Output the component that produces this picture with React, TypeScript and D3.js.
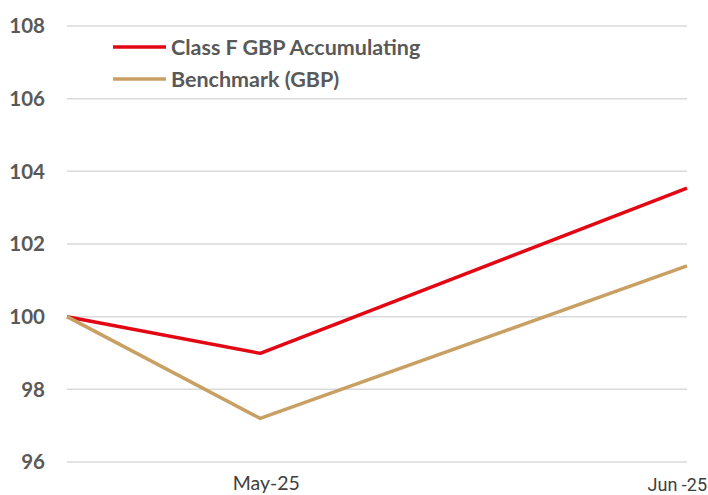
import React from "react";
import * as d3 from "d3";

const dates = ["2025-05-17T10:00", "2025-05-31T00:00", "2025-06-30T00:00"];
const classF = [100, 98.99, 103.54];
const benchmark = [100, 97.2, 101.4];
const yTicks = [96, 98, 100, 102, 104, 106, 108];
const seriesNames = ["Class F GBP Accumulating", "Benchmark (GBP)"];
const xLabels = ["May-25", "Jun -25"];

const W = 708;
const H = 495;

const App = () => {
  const parse = d3.timeParse("%Y-%m-%dT%H:%M");
  const xDates = dates.map((d) => parse(d) as Date);

  const x = d3.scaleTime()
    .domain([xDates[0], xDates[2]])
    .range([67, 687]);
  const y = d3.scaleLinear()
    .domain([96, 108])
    .range([462, 26]);

  const line = d3.line<number>()
    .x((_, i) => x(xDates[i]))
    .y((d) => y(d));

  const series = [
    { name: seriesNames[0], values: classF, color: "#e30613" },
    { name: seriesNames[1], values: benchmark, color: "#c9a063" },
  ];

  const font = "Lato, 'Open Sans', sans-serif";

  return (
    <div style={{ position: "absolute", left: 0, top: 0 }}>
      <svg width={W} height={H} style={{ display: "block", background: "#fff" }}>
        {yTicks.map((t) => (
          <g key={t}>
            <line x1={67} x2={687} y1={y(t)} y2={y(t)} stroke="#d9d9d9" strokeWidth={1.5} />
            <text x={45} y={y(t)} dy="0.36em" textAnchor="end" fontFamily={font}
              fontWeight="bold" fontSize={20.5} fill="#595959">{t}</text>
          </g>
        ))}
        {series.map((s) => (
          <path key={s.name} d={line(s.values) || ""} fill="none" stroke={s.color}
            strokeWidth={3.5} strokeLinejoin="round" />
        ))}
        <text x={x(xDates[1]) + 6} y={490} textAnchor="middle" fontFamily={font}
          fontSize={19.5} fill="#404040">{xLabels[0]}</text>
        <text x={707} y={491} textAnchor="end" fontFamily="Roboto, sans-serif"
          fontSize={18} fill="#404040">{xLabels[1]}</text>
        {series.map((s, i) => (
          <g key={s.name} transform={`translate(113,${47 + i * 32})`}>
            <line x1={0} x2={53} y1={0} y2={0} stroke={s.color} strokeWidth={3.5} />
            <text x={58} y={0} dy="0.36em" fontFamily={font} fontWeight="bold"
              fontSize={21.5} fill="#595959">{s.name}</text>
          </g>
        ))}
      </svg>
    </div>
  );
};

export default App;
